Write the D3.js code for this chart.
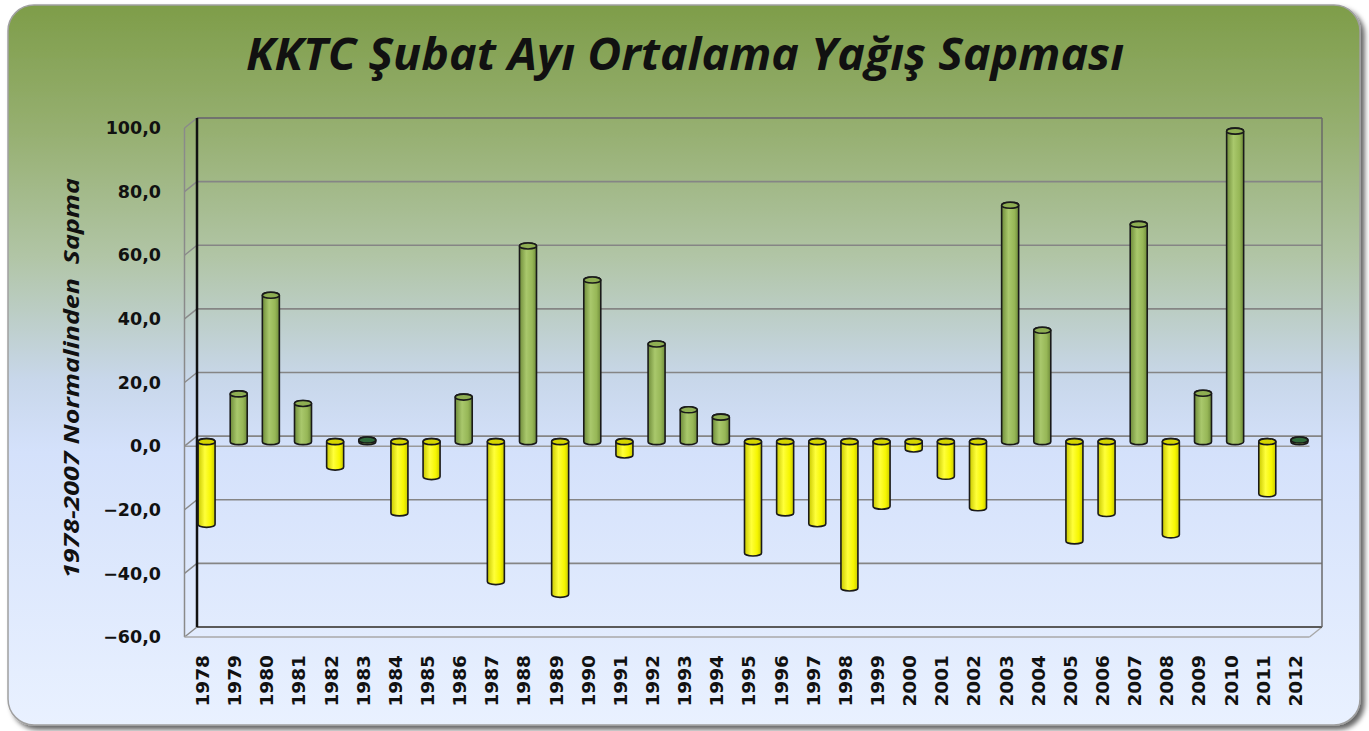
<!DOCTYPE html>
<html>
<head>
<meta charset="utf-8">
<script src="https://cdn.jsdelivr.net/npm/d3@7"></script>
<style>
  body { margin: 0; background: #ffffff; }
  svg text { white-space: pre; }
</style>
</head>
<body>
<div id="chart"></div>
<script>
// chart data
var years = ["1978", "1979", "1980", "1981", "1982", "1983", "1984", "1985", "1986", "1987",
  "1988", "1989", "1990", "1991", "1992", "1993", "1994", "1995", "1996", "1997",
  "1998", "1999", "2000", "2001", "2002", "2003", "2004", "2005", "2006", "2007",
  "2008", "2009", "2010", "2011", "2012"];
var deviation = [-26, 15, 46, 12, -8, 0.5, -22.4, -11, 14, -44,
  61.5, -48, 50.8, -4.2, 30.7, 10, 7.7, -35, -22.4, -25.8,
  -46, -20.3, -2.3, -10.9, -20.8, 74.3, 35, -31.2, -22.6, 68.3,
  -29.3, 15.2, 97.6, -16.4, 0.5];
var yTicks = [-60, -40, -20, 0, 20, 40, 60, 80, 100];
var titleText = "KKTC Şubat Ayı Ortalama Yağış Sapması";
var yTitleText = "1978-2007 Normalinden  Sapma";

var width = 1369,
  height = 731;

//back wall of the 3d plot, the floor and side wall are shifted by depth
var wall = { left: 197, right: 1322, top: 118, bottom: 627 };
var depth = { dx: -12.5, dy: 10 };
var barDepth = { dx: -6.5, dy: 5.5 };

var svg = d3
  .select("#chart")
  .append("svg")
  .attr("width", width)
  .attr("height", height);

var defs = svg.append("defs");

//panel background gradient: olive green on top to light blue at the bottom
var bg = defs
  .append("linearGradient")
  .attr("id", "bg")
  .attr("x1", 0).attr("y1", 0).attr("x2", 0).attr("y2", 1);
[["0%", "#7e9d49"], ["18%", "#97b072"], ["35%", "#b1c5a6"], ["52%", "#c8d7ea"],
 ["62%", "#d4e1fb"], ["100%", "#e9f1ff"]].forEach(function(s) {
  bg.append("stop").attr("offset", s[0]).attr("stop-color", s[1]);
});

var shadow = defs.append("filter").attr("id", "shadow")
  .attr("x", "-5%").attr("y", "-5%").attr("width", "110%").attr("height", "110%");
shadow.append("feDropShadow")
  .attr("dx", 4).attr("dy", 4).attr("stdDeviation", 2.5)
  .attr("flood-color", "#000").attr("flood-opacity", 0.6);

//cylinder shading, one gradient per colour
function cylGradient(id, dark, mid, light) {
  var g = defs.append("linearGradient").attr("id", id)
    .attr("x1", 0).attr("y1", 0).attr("x2", 1).attr("y2", 0);
  g.append("stop").attr("offset", "0%").attr("stop-color", dark);
  g.append("stop").attr("offset", "40%").attr("stop-color", light);
  g.append("stop").attr("offset", "75%").attr("stop-color", mid);
  g.append("stop").attr("offset", "100%").attr("stop-color", dark);
}
cylGradient("greenCyl", "#6f8c3a", "#97b757", "#a9c86c");
cylGradient("yellowCyl", "#c9c900", "#f6f600", "#ffff3a");

//rounded panel
svg
  .append("rect")
  .attr("x", 8)
  .attr("y", 5)
  .attr("width", 1352)
  .attr("height", 720)
  .attr("rx", 26)
  .attr("fill", "url(#bg)")
  .attr("stroke", "#a0a0a0")
  .attr("stroke-width", 1.5)
  .attr("filter", "url(#shadow)");

//scales on the back wall
var x = d3.scaleBand().domain(years).range([wall.left, wall.right]);
var y = d3.scaleLinear().domain([-60, 100]).range([wall.bottom, wall.top]);

var trLocale = d3.formatLocale({ decimal: ",", thousands: ".", grouping: [3], currency: ["", " TL"] });
var fmt = trLocale.format(".1f");

var grid = svg.append("g");

//side wall diagonals and back wall gridlines
yTicks.forEach(function(v) {
  grid.append("line")
    .attr("x1", wall.left).attr("y1", y(v))
    .attr("x2", wall.left + depth.dx).attr("y2", y(v) + depth.dy)
    .attr("stroke", "#8a8a8a").attr("stroke-width", 1.5);
  if (v > -60) {
    grid.append("line")
      .attr("x1", wall.left).attr("y1", y(v))
      .attr("x2", wall.right).attr("y2", y(v))
      .attr("stroke", "#858585").attr("stroke-width", 1.6);
  }
});

//front edge of the zero plane
grid.append("line")
  .attr("x1", wall.left + depth.dx).attr("y1", y(0) + depth.dy)
  .attr("x2", wall.right + depth.dx).attr("y2", y(0) + depth.dy)
  .attr("stroke", "#9a9a9a").attr("stroke-width", 1.5);

//side wall front edge
grid.append("line")
  .attr("x1", wall.left + depth.dx).attr("y1", y(100) + depth.dy)
  .attr("x2", wall.left + depth.dx).attr("y2", y(-60) + depth.dy)
  .attr("stroke", "#8a8a8a").attr("stroke-width", 1.5);

//floor
grid.append("line")
  .attr("x1", wall.left + depth.dx).attr("y1", wall.bottom + depth.dy)
  .attr("x2", wall.right + depth.dx).attr("y2", wall.bottom + depth.dy)
  .attr("stroke", "#a8a8a8").attr("stroke-width", 1.5);
grid.append("line")
  .attr("x1", wall.right + depth.dx).attr("y1", wall.bottom + depth.dy)
  .attr("x2", wall.right).attr("y2", wall.bottom)
  .attr("stroke", "#a8a8a8").attr("stroke-width", 1.5);
grid.append("line")
  .attr("x1", wall.left).attr("y1", wall.bottom)
  .attr("x2", wall.right).attr("y2", wall.bottom)
  .attr("stroke", "#5a5a5a").attr("stroke-width", 2.2);

//back wall frame
grid.append("line")
  .attr("x1", wall.left).attr("y1", wall.top)
  .attr("x2", wall.right).attr("y2", wall.top)
  .attr("stroke", "#6a6a6a").attr("stroke-width", 1.5);
grid.append("line")
  .attr("x1", wall.right).attr("y1", wall.top)
  .attr("x2", wall.right).attr("y2", wall.bottom)
  .attr("stroke", "#6a6a6a").attr("stroke-width", 1.5);
grid.append("line")
  .attr("x1", wall.left).attr("y1", wall.top)
  .attr("x2", wall.left).attr("y2", wall.bottom)
  .attr("stroke", "#111").attr("stroke-width", 2.5);

//cylinders
var rx = 8.5,
  ry = 3;

function cylinderBody(cx, yTop, yBot) {
  return "M" + (cx - rx) + "," + yTop +
    "L" + (cx - rx) + "," + yBot +
    "A" + rx + "," + ry + " 0 0 0 " + (cx + rx) + "," + yBot +
    "L" + (cx + rx) + "," + yTop +
    "A" + rx + "," + ry + " 0 0 0 " + (cx - rx) + "," + yTop + "Z";
}

var bars = svg
  .selectAll(".bar")
  .data(years.map(function(yr, i) { return { year: yr, value: deviation[i] }; }))
  .enter()
  .append("g")
  .attr("class", "bar");

function barX(d) { return x(d.year) + x.bandwidth() / 2 + barDepth.dx; }
function barTop(d) { return y(Math.max(d.value, 0)) + barDepth.dy; }
function barBot(d) { return y(Math.min(d.value, 0)) + barDepth.dy; }

bars
  .append("path")
  .attr("d", function(d) { return cylinderBody(barX(d), barTop(d), barBot(d)); })
  .attr("fill", function(d) { return d.value >= 0 ? "url(#greenCyl)" : "url(#yellowCyl)"; })
  .attr("stroke", "#1a1a1a")
  .attr("stroke-width", 1.6);

bars
  .append("ellipse")
  .attr("cx", barX)
  .attr("cy", barTop)
  .attr("rx", rx)
  .attr("ry", ry)
  .attr("fill", function(d) {
    if (Math.abs(d.value) < 1) return "#2f6a3a";
    return d.value >= 0 ? "#8eae52" : "#d6d600";
  })
  .attr("stroke", "#1a1a1a")
  .attr("stroke-width", 1.6);

//y axis labels at the front of the side wall
svg
  .append("g")
  .selectAll("text")
  .data(yTicks)
  .enter()
  .append("text")
  .attr("x", 161)
  .attr("y", function(v) { return y(v) + depth.dy; })
  .attr("dy", "0.35em")
  .attr("text-anchor", "end")
  .attr("font-family", "DejaVu Sans")
  .attr("font-weight", "bold")
  .attr("font-size", 17.5)
  .attr("fill", "#111")
  .text(fmt);

//x axis labels, rotated
svg
  .append("g")
  .selectAll("text")
  .data(years)
  .enter()
  .append("text")
  .attr("transform", function(d) {
    return "translate(" + (x(d) + x.bandwidth() / 2 + depth.dx + 2) + ",655) rotate(-90)";
  })
  .attr("dy", "0.35em")
  .attr("text-anchor", "end")
  .attr("font-family", "DejaVu Sans")
  .attr("font-weight", "bold")
  .attr("font-size", 18.5)
  .attr("fill", "#111")
  .text(function(d) { return d; });

//titles
svg
  .append("text")
  .attr("x", 685)
  .attr("y", 70)
  .attr("text-anchor", "middle")
  .attr("font-family", "Open Sans")
  .attr("font-style", "italic")
  .attr("font-weight", "bold")
  .attr("font-size", 44)
  .attr("textLength", 878)
  .attr("lengthAdjust", "spacingAndGlyphs")
  .attr("fill", "#111")
  .text(titleText);

svg
  .append("text")
  .attr("transform", "translate(79,378) rotate(-90)")
  .attr("text-anchor", "middle")
  .attr("font-family", "Open Sans")
  .attr("font-style", "italic")
  .attr("font-weight", "bold")
  .attr("font-size", 21.5)
  .attr("textLength", 400)
  .attr("lengthAdjust", "spacingAndGlyphs")
  .attr("fill", "#111")
  .text(yTitleText);
</script>
</body>
</html>
